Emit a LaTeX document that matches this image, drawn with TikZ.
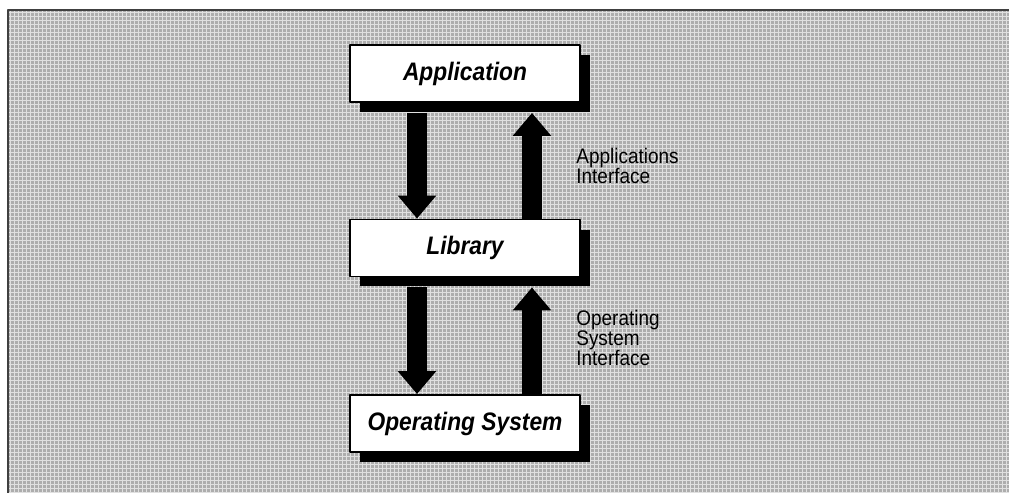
\documentclass[tikz,border=0pt]{standalone}
\usepackage{fontspec}
\setmainfont{Liberation Sans}
\newfontfamily\narrowfont{Liberation Sans}[FakeStretch=0.9]
\usetikzlibrary{arrows.meta,shadows,calc}
\definecolor{screen}{gray}{0.68}
\definecolor{screenline}{gray}{0.88}
\begin{document}
\begin{tikzpicture}[x=0.02cm,y=-0.02cm,line join=round,
		layer/.style={draw,line width=1.1pt,fill=white,minimum width=4.6cm,minimum height=1.14cm,inner sep=0pt,
			font=\narrowfont\fontsize{14.4}{16}\selectfont\bfseries\itshape,
			drop shadow={shadow xshift=0.2cm,shadow yshift=-0.2cm,fill=black,opacity=1}},
		pipe/.style={line width=11.3pt,-{Triangle[width=21pt,length=13pt]}},
		note/.style={anchor=north west,inner sep=0pt,align=left,
			font=\narrowfont\fontsize{12}{11.3}\selectfont}]
	\def\xl{8} \def\xr{1009} \def\yt{10} \def\yb{493}
	\def\dn{0.96cm} \def\up{1.34cm}
	\useasboundingbox (0,0) rectangle (\xr,\yb);
	% screened background
	\begin{scope}
		\clip (\xl,\yt) rectangle (\xr,\yb);
		\fill[screen] (\xl,\yt) rectangle (\xr,\yb);
		\foreach \gx in {10,14,...,1014} \draw[screenline,line width=0.5pt] (\gx,\yt)--(\gx,\yb);
		\foreach \gy in {12,16,...,496} \draw[screenline,line width=0.5pt] (\xl,\gy)--(\xr,\gy);
	\end{scope}
	\draw[black!75,line width=1.2pt] (\xl,\yb)--(\xl,\yt)--(\xr,\yt);
	% layers
	\node[layer] (app) at (465,73.5) {Application};
	\node[layer] (lib) at (465,248) {Library};
	\node[layer] (os) at (465,423.5) {Operating System};
	% calls down, returns up
	\draw[pipe] ([xshift=-\dn,yshift=-0.2cm]app.south) -- ([xshift=-\dn]lib.north);
	\draw[pipe] ([xshift=\up]lib.north) -- ([xshift=\up,yshift=-0.2cm]app.south);
	\draw[pipe] ([xshift=-\dn,yshift=-0.2cm]lib.south) -- ([xshift=-\dn]os.north);
	\draw[pipe] ([xshift=\up]os.north) -- ([xshift=\up,yshift=-0.2cm]lib.south);
	\node[note] (apinote) at (576,148) {Applications\\Interface};
	\node[note] (osnote) at (576,310) {Operating\\System\\Interface};
\end{tikzpicture}
\end{document}
